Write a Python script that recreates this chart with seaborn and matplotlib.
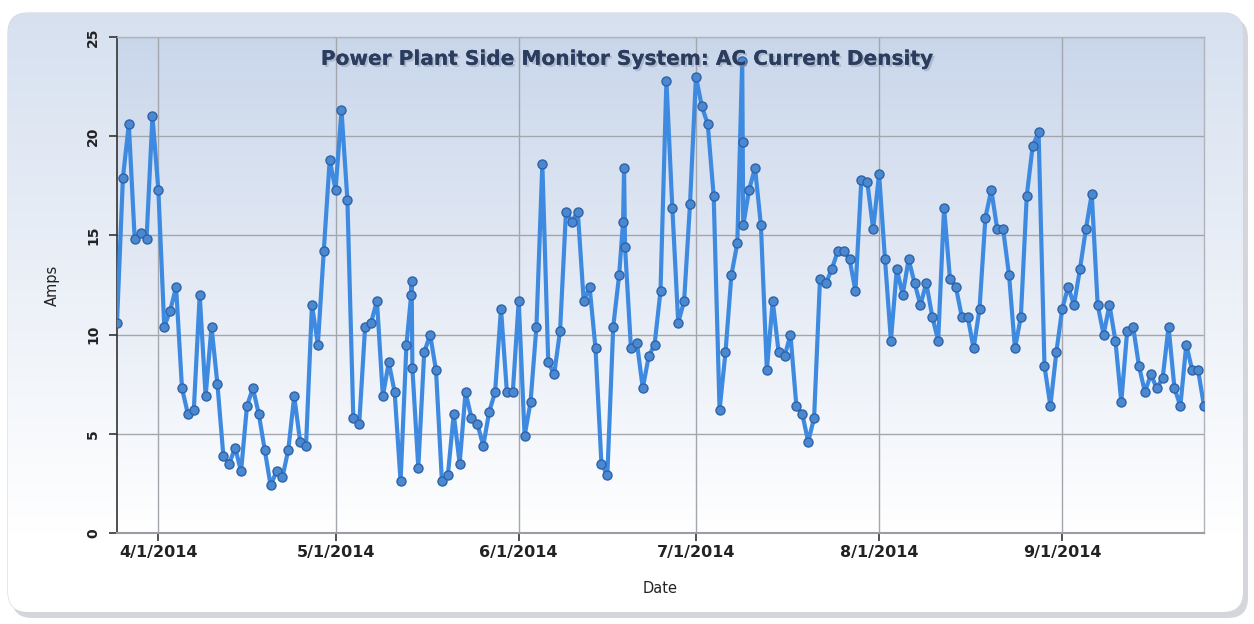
import numpy as np
import pandas as pd
import matplotlib
matplotlib.use("Agg")
import matplotlib.pyplot as plt
from matplotlib.patches import FancyBboxPatch
import matplotlib.patheffects as pe
import seaborn as sns

# ---------------- data ----------------
start_date = "2014-03-25"
end_date = "2014-09-25"
daily_amps = [
    10.6, 17.9, 20.6, 14.8, 15.1, 14.8, 21.0, 17.3, 10.4, 11.2,   # 3/25 - 4/3
    12.4, 7.3, 6.0, 6.2, 12.0, 6.9, 10.4, 7.5, 3.9, 3.5,          # 4/4 - 4/13
    4.3, 3.1, 6.4, 7.3, 6.0, 4.2, 2.4, 3.1, 2.8, 4.2,             # 4/14 - 4/23
    6.9, 4.6, 4.4, 11.5, 9.5, 14.2, 18.8, 17.3, 21.3, 16.8,       # 4/24 - 5/3
    5.8, 5.5, 10.4, 10.6, 11.7, 6.9, 8.6, 7.1, 2.6, 9.5,          # 5/4 - 5/13
    8.3, 3.3, 9.1, 10.0, 8.2, 2.6, 2.9, 6.0, 3.5, 7.1,            # 5/14 - 5/23
    5.8, 5.5, 4.4, 6.1, 7.1, 11.3, 7.1, 7.1, 11.7, 4.9,           # 5/24 - 6/2
    6.6, 10.4, 18.6, 8.6, 8.0, 10.2, 16.2, 15.7, 16.2, 11.7,      # 6/3 - 6/12
    12.4, 9.3, 3.5, 2.9, 10.4, 13.0, 14.4, 9.3, 9.6, 7.3,         # 6/13 - 6/22
    8.9, 9.5, 12.2, 22.8, 16.4, 10.6, 11.7, 16.6, 23.0, 21.5,     # 6/23 - 7/2
    20.6, 17.0, 6.2, 9.1, 13.0, 14.6, 15.5, 17.3, 18.4, 15.5,     # 7/3 - 7/12
    8.2, 11.7, 9.1, 8.9, 10.0, 6.4, 6.0, 4.6, 5.8, 12.8,          # 7/13 - 7/22
    12.6, 13.3, 14.2, 14.2, 13.8, 12.2, 17.8, 17.7, 15.3, 18.1,   # 7/23 - 8/1
    13.8, 9.7, 13.3, 12.0, 13.8, 12.6, 11.5, 12.6, 10.9, 9.7,     # 8/2 - 8/11
    16.4, 12.8, 12.4, 10.9, 10.9, 9.3, 11.3, 15.9, 17.3, 15.3,    # 8/12 - 8/21
    15.3, 13.0, 9.3, 10.9, 17.0, 19.5, 20.2, 8.4, 6.4, 9.1,       # 8/22 - 8/31
    11.3, 12.4, 11.5, 13.3, 15.3, 17.1, 11.5, 10.0, 11.5, 9.7,    # 9/1 - 9/10
    6.6, 10.2, 10.4, 8.4, 7.1, 8.0, 7.3, 7.8, 10.4, 7.3,          # 9/11 - 9/20
    6.4, 9.5, 8.2, 8.2, 6.4,                                      # 9/21 - 9/25
]
# additional intra-day readings
extra_times = ["2014-05-13 19:00", "2014-05-13 21:00",
               "2014-06-18 16:00", "2014-06-18 20:00",
               "2014-07-08 20:00", "2014-07-08 22:00"]
extra_amps = [12.0, 12.7, 15.7, 18.4, 23.8, 19.7]

tick_dates = ["2014-04-01", "2014-05-01", "2014-06-01",
              "2014-07-01", "2014-08-01", "2014-09-01"]
tick_labels = ["4/1/2014", "5/1/2014", "6/1/2014",
               "7/1/2014", "8/1/2014", "9/1/2014"]
y_ticks = [0, 5, 10, 15, 20, 25]

title = "Power Plant Side Monitor System: AC Current Density"

daily_dates = pd.date_range(start_date, end_date, freq="D")
df = pd.concat([
    pd.DataFrame({"Date": daily_dates, "Amps": daily_amps}),
    pd.DataFrame({"Date": pd.to_datetime(extra_times), "Amps": extra_amps}),
]).sort_values("Date").reset_index(drop=True)

# ---------------- figure ----------------
W, H = 1254, 624
fig = plt.figure(figsize=(W / 100, H / 100), dpi=100)
fig.patch.set_facecolor("white")

# background axes in pixel coordinates
bg = fig.add_axes([0, 0, 1, 1], zorder=-10)
bg.axis("off")

# panel shadow
shadow = FancyBboxPatch((12, 18), 1236, 600,
                        boxstyle="round,pad=0,rounding_size=20",
                        facecolor="#b8bcc4", edgecolor="none", alpha=0.6)
bg.add_patch(shadow)
panel = FancyBboxPatch((8, 13), 1235, 599,
                       boxstyle="round,pad=0,rounding_size=20",
                       facecolor="none", edgecolor="#d0d6de", linewidth=0.8)
bg.add_patch(panel)
grad = np.linspace(0, 1, 256).reshape(-1, 1)
top_c = np.array([0.84, 0.88, 0.94])
bot_c = np.array([1.0, 1.0, 1.0])
g_panel = top_c + (bot_c - top_c) * np.clip(grad * 1.15, 0, 1)[..., None]
g_panel = g_panel.reshape(256, 1, 3)
im = bg.imshow(g_panel, extent=(8, 1243, 612, 13), aspect="auto",
               interpolation="bilinear", zorder=1)
im.set_clip_path(panel)

# plot area gradient
L, R, T, B = 117, 1204, 37, 533
top_p = np.array([0.79, 0.84, 0.92])
g_plot = top_p + (bot_c - top_p) * grad[..., None]
g_plot = g_plot.reshape(256, 1, 3)
bg.imshow(g_plot, extent=(L, R, B, T), aspect="auto",
          interpolation="bilinear", zorder=2)
bg.set_xlim(0, W)
bg.set_ylim(H, 0)

ax = fig.add_axes([L / W, 1 - B / H, (R - L) / W, (B - T) / H])
ax.patch.set_alpha(0)

sns.lineplot(data=df, x="Date", y="Amps", ax=ax, color="#3d8ae0",
             linewidth=3.0, marker="o", markersize=6.5,
             markerfacecolor="#4a88d0", markeredgecolor="#2f62a8",
             markeredgewidth=1.0, zorder=5)

ax.set_xlim(pd.Timestamp(start_date), pd.Timestamp(end_date))
ax.set_ylim(0, 25)
ax.set_yticks(y_ticks)
ax.set_yticklabels([str(v) for v in y_ticks], rotation=90, va="center",
                   fontweight="bold", fontsize=10, color="#222222")
ax.set_xticks(pd.to_datetime(tick_dates))
ax.set_xticklabels(tick_labels, fontweight="bold", fontsize=11.5,
                   color="#222222")

ax.grid(True, color="#a3a7ad", linewidth=1.0)
ax.set_axisbelow(True)
for s in ["top", "right"]:
    ax.spines[s].set_color("#b0b4ba")
    ax.spines[s].set_linewidth(1.0)
ax.spines["bottom"].set_color("#9a9ea4")
ax.spines["bottom"].set_linewidth(1.5)
ax.spines["left"].set_color("#333333")
ax.spines["left"].set_linewidth(1.2)
ax.tick_params(axis="y", length=6, width=1.2, color="#333333", pad=6)
ax.tick_params(axis="x", length=6, width=1.2, color="#333333", pad=3,
               direction="out")

ax.set_xlabel("Date", fontsize=10.5, color="#222222", labelpad=15)
ax.set_ylabel("Amps", fontsize=10.5, color="#222222", labelpad=19)

ax.text(0.47, 0.955, title, transform=ax.transAxes, ha="center", va="center",
        fontsize=14.5, fontweight="bold", color="#2b3d5e", zorder=10,
        path_effects=[pe.withSimplePatchShadow(offset=(1.5, -1.5),
                                               shadow_rgbFace="#8f9bb0",
                                               alpha=0.5),
                      pe.Normal()])

fig.savefig("out.png", dpi=100)
